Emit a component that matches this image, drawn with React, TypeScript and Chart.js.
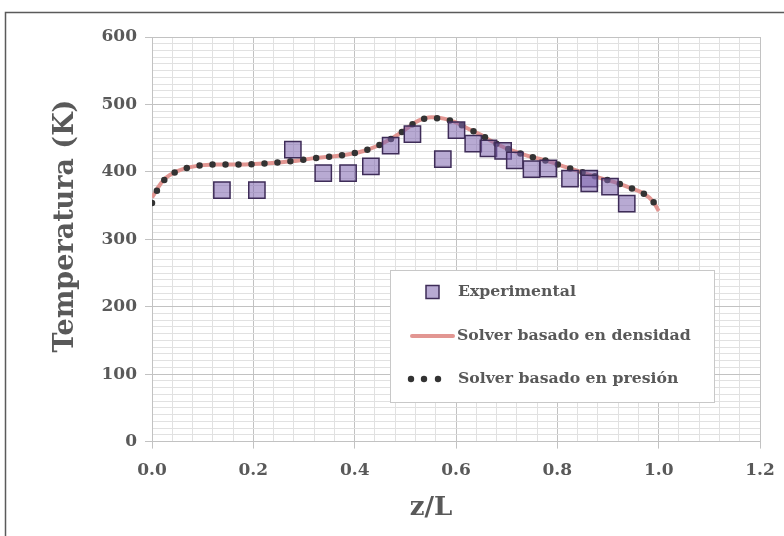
import { useEffect, useRef } from 'react';
import { Chart, registerables } from 'chart.js';

Chart.register(...registerables);

// ---------- data ----------
const expZ = [0.138, 0.207, 0.278, 0.338, 0.387, 0.432, 0.471, 0.514, 0.574, 0.601, 0.634, 0.664, 0.693, 0.716, 0.749, 0.782, 0.825, 0.863, 0.863, 0.904, 0.937];
const expT = [373, 373, 433, 398, 398, 408, 439, 456, 419, 462, 442, 435, 431, 417, 404, 405, 390, 390, 383, 378, 353];

const curveZ = [0, 0.006, 0.011, 0.027, 0.05, 0.075, 0.101, 0.129, 0.156, 0.184, 0.21, 0.237, 0.264, 0.29, 0.316, 0.343, 0.368, 0.394, 0.418, 0.443, 0.465, 0.485, 0.506, 0.526, 0.551, 0.576, 0.601, 0.624, 0.646, 0.667, 0.69, 0.713, 0.74, 0.766, 0.789, 0.817, 0.851, 0.884, 0.92, 0.945, 0.97, 0.989, 1.0];
const densidadT = [362, 369, 376, 391, 401, 407, 410, 411, 411, 411, 412, 413, 415, 417, 420, 422, 424, 427, 431, 438, 446, 455, 466, 476, 481, 479, 473, 464, 456, 447, 438, 431, 424, 419, 414, 407, 399, 391, 383, 376, 368, 356, 342];
const presionT = [354, 366, 374, 390, 401, 407, 410, 411, 411, 411, 412, 413, 415, 417, 420, 422, 424, 427, 431, 438, 446, 455, 466, 476, 480, 478, 473, 464, 456, 447, 438, 431, 424, 419, 414, 407, 399, 391, 383, 376, 368, 356, 345];

const seriesLabels = ['Experimental', 'Solver basado en densidad', 'Solver basado en presión'];
const xTitle = 'z/L';
const yTitle = 'Temperatura (K)';

const FONT = "'DejaVu Serif', serif";
const TEXT = '#595959';
const MAJOR = '#c2c2c2';
const MINOR = '#e1e1e1';

const isMult = (v: number, step: number) => Math.abs(v / step - Math.round(v / step)) < 1e-6;

const framePlugin = {
  id: 'frame',
  beforeDraw(chart: any) {
    const ctx = chart.ctx;
    ctx.save();
    ctx.fillStyle = '#ffffff';
    ctx.fillRect(0, 0, chart.width, chart.height);
    ctx.strokeStyle = '#5a5a5a';
    ctx.lineWidth = 1.5;
    ctx.strokeRect(5.5, 12.5, chart.width + 20, chart.height + 20);
    ctx.restore();
  },
};

const titlesPlugin = {
  id: 'axisTitles',
  afterDraw(chart: any) {
    const ctx = chart.ctx;
    const a = chart.chartArea;
    ctx.save();
    ctx.fillStyle = TEXT;
    ctx.textAlign = 'center';
    ctx.textBaseline = 'middle';
    ctx.font = `bold 26px ${FONT}`;
    ctx.fillText(xTitle, a.left + 279, a.bottom + 67);
    ctx.translate(a.left - 86, a.top + 189);
    ctx.rotate(-Math.PI / 2);
    ctx.font = `bold 27px ${FONT}`;
    ctx.fillText(yTitle, 0, 0);
    ctx.restore();
  },
};

const legendPlugin = {
  id: 'customLegend',
  afterDraw(chart: any) {
    const ctx = chart.ctx;
    const a = chart.chartArea;
    const ds = chart.data.datasets;
    const bx = a.left + 238, by = a.top + 233, bw = 324, bh = 132;
    ctx.save();
    ctx.fillStyle = '#ffffff';
    ctx.fillRect(bx, by, bw, bh);
    ctx.strokeStyle = '#c8c8c8';
    ctx.lineWidth = 1;
    ctx.strokeRect(bx + 0.5, by + 0.5, bw, bh);

    const tx = bx + 68;
    const rows = [by + 22, by + 66, by + 109];
    ctx.font = `bold 15.7px ${FONT}`;
    ctx.fillStyle = TEXT;
    ctx.textBaseline = 'middle';
    ctx.textAlign = 'left';

    // Experimental
    const e = ds[0];
    ctx.fillStyle = e.backgroundColor;
    ctx.strokeStyle = e.borderColor;
    ctx.lineWidth = 1.5;
    ctx.fillRect(bx + 36, rows[0] - 6.5, 13, 13);
    ctx.strokeRect(bx + 36, rows[0] - 6.5, 13, 13);
    ctx.fillStyle = TEXT;
    ctx.fillText(e.label, tx, rows[0]);

    // densidad (red line)
    const d = ds[2];
    ctx.strokeStyle = d.borderColor;
    ctx.lineWidth = d.borderWidth;
    ctx.lineCap = 'round';
    ctx.beginPath();
    ctx.moveTo(bx + 22, rows[1]);
    ctx.lineTo(bx + 63, rows[1]);
    ctx.stroke();
    ctx.fillStyle = TEXT;
    ctx.fillText(d.label, tx - 1, rows[1]);

    // presion (dots)
    const p = ds[1];
    ctx.fillStyle = p.borderColor;
    [bx + 21, bx + 34, bx + 48].forEach((cx) => {
      ctx.beginPath();
      ctx.arc(cx, rows[2], 3.2, 0, Math.PI * 2);
      ctx.fill();
    });
    ctx.fillStyle = TEXT;
    ctx.fillText(p.label, tx, rows[2]);
    ctx.restore();
  },
};

export default function App() {
  const ref = useRef<HTMLCanvasElement | null>(null);

  useEffect(() => {
    if (!ref.current) return;
    const chart = new Chart(ref.current, {
      type: 'scatter',
      data: {
        datasets: [
          {
            label: seriesLabels[0],
            data: expZ.map((z, i) => ({ x: z, y: expT[i] })),
            pointStyle: 'rect',
            pointRadius: 11.5,
            pointHoverRadius: 11.5,
            backgroundColor: 'rgba(125,100,175,0.55)',
            borderColor: '#3e2c58',
            borderWidth: 1.5,
            showLine: false,
          },
          {
            label: seriesLabels[2],
            data: curveZ.map((z, i) => ({ x: z, y: presionT[i] })),
            showLine: true,
            pointRadius: 0,
            borderColor: '#333333',
            backgroundColor: '#333333',
            borderWidth: 6.5,
            borderDash: [0, 13],
            borderCapStyle: 'round',
            cubicInterpolationMode: 'monotone',
          },
          {
            label: seriesLabels[1],
            data: curveZ.map((z, i) => ({ x: z, y: densidadT[i] })),
            showLine: true,
            pointRadius: 0,
            borderColor: 'rgb(226,150,146)',
            backgroundColor: 'rgb(226,150,146)',
            borderWidth: 4,
            cubicInterpolationMode: 'monotone',
          },
        ],
      } as any,
      options: {
        animation: false,
        responsive: false,
        devicePixelRatio: 1,
        layout: { padding: { left: 0, right: 24, top: 37, bottom: 43 } },
        plugins: { legend: { display: false }, tooltip: { enabled: false } },
        scales: {
          x: {
            type: 'linear',
            min: 0,
            max: 1.2,
            afterFit: (s: any) => { s.paddingRight = 0; s.paddingLeft = 0; },
            ticks: {
              stepSize: 0.04,
              autoSkip: false,
              maxRotation: 0,
              padding: 12,
              color: TEXT,
              font: { family: FONT, size: 17, weight: 'bold' },
              callback: (v: any) => (isMult(Number(v), 0.2) ? Number(v).toFixed(1) : ''),
            },
            grid: {
              color: (c: any) => (c.tick && isMult(c.tick.value, 0.2) ? MAJOR : MINOR),
              tickColor: (c: any) => (c.tick && isMult(c.tick.value, 0.2) ? MAJOR : 'rgba(0,0,0,0)'),
              tickLength: 7,
              lineWidth: 1,
            },
            border: { color: MAJOR, width: 1 },
            title: { display: false },
          },
          y: {
            type: 'linear',
            min: 0,
            max: 600,
            afterFit: (s: any) => { s.width = 152; },
            ticks: {
              stepSize: 10,
              maxTicksLimit: 100,
              autoSkip: false,
              padding: 8,
              color: TEXT,
              font: { family: FONT, size: 17, weight: 'bold' },
              callback: (v: any) => (isMult(Number(v), 100) ? String(Math.round(Number(v))) : ''),
            },
            grid: {
              color: (c: any) => (c.tick && isMult(c.tick.value, 100) ? MAJOR : MINOR),
              tickColor: (c: any) => (c.tick && isMult(c.tick.value, 100) ? MAJOR : 'rgba(0,0,0,0)'),
              tickLength: 7,
              lineWidth: 1,
            },
            border: { color: MAJOR, width: 1 },
            title: { display: false },
          },
        },
      } as any,
      plugins: [framePlugin, titlesPlugin, legendPlugin],
    });
    return () => chart.destroy();
  }, []);

  return (
    <div style={{ position: 'fixed', left: 0, top: 0, width: 784, height: 536, overflow: 'hidden' }}>
      <canvas ref={ref} width={784} height={536} />
    </div>
  );
}
